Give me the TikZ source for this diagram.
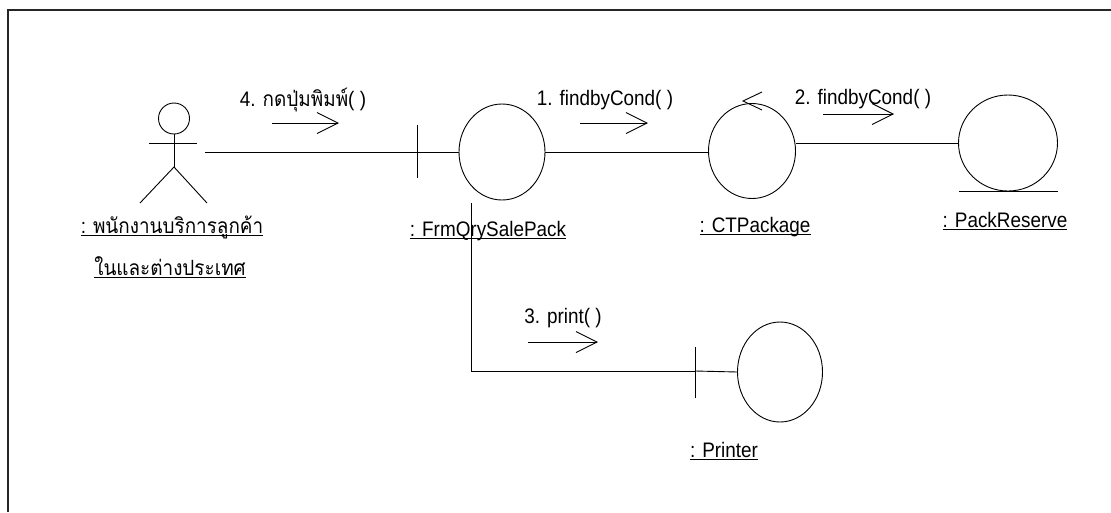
\documentclass[tikz,border=0pt]{standalone}
\usepackage{fontspec}
\setmainfont[FakeStretch=0.9]{Liberation Sans}
\newfontfamily\thai[Script=Thai,FakeStretch=0.9]{Loma}
\usetikzlibrary{shapes.geometric,arrows.meta}
\newcommand\ulbox[1]{\setbox0\hbox{#1}\rlap{\rule[-3pt]{\wd0}{0.9pt}}\box0}
\tikzset{
  obj/.style={ellipse, draw, inner sep=0pt, outer sep=0pt, minimum width=86pt, minimum height=96pt},
  txt/.style={anchor=base, inner sep=0pt},
  msg/.style={-{Straight Barb[length=21pt,width=21pt]}},
}
\begin{document}
\begin{tikzpicture}[x=1pt,y=-1pt,line width=0.9pt,font=\fontsize{21}{24}\selectfont]
\useasboundingbox (0,0) rectangle (1111,512);
\draw[line width=2pt,black!85] (8,512) -- (8,10) -- (1111,10);

% actor
\draw (174,118.5) circle (15.5pt);
\draw (149,143) -- (197,143);
\draw (174,134) -- (174,167);
\draw (140,203) -- (174,167) -- (207,203);
\coordinate (actorR) at (205,152);
\node[txt] (la1) at (172,233) {\ulbox{: \thai พนักงานบริการลูกค้า}};
\node[txt] (la2) at (170,275) {\ulbox{\thai ในและต่างประเทศ}};

% objects
\node[obj] (frm) at (502,152) {};
\node[obj, minimum width=87pt, minimum height=95pt] (ct) at (752,151) {};
\node[obj, minimum width=99pt, minimum height=96pt] (pr) at (1008,143) {};
\node[obj, minimum width=85pt, minimum height=100pt] (prn) at (780,372) {};

% boundary bars / control arrow / entity line
\draw (417,125) -- (417,178);
\draw (695,347) -- (695,398);
\coordinate (prnbar) at (695,371);
\draw (prnbar) -- (prn.west);
\draw (762,92) -- (743,101) -- (762,110);
\draw (pr.west |- pr.south) -- (pr.east |- pr.south);

\node[txt] (lfrm) at (488,236) {\ulbox{: FrmQrySalePack}};
\node[txt] (lct) at (755,232) {\ulbox{: CTPackage}};
\node[txt] (lpr) at (1005,227) {\ulbox{: PackReserve}};
\node[txt] (lprn) at (724,457) {\ulbox{: Printer}};

% links
\draw (actorR) -- (frm.west);
\draw (frm.east) -- (frm.east -| ct.west);
\draw (pr.west) -- (pr.west -| ct.east);
\coordinate (fdown) at (471,203);
\draw (fdown) |- (prnbar);

% messages
\node[txt] (m4) at (303,106) {4. {\thai กดปุ่มพิมพ์}( )};
\draw[msg] (272,123) -- (339,123);
\node[txt] (m1) at (605,105) {1. findbyCond( )};
\draw[msg] (580,123) -- (648,123);
\node[txt] (m2) at (863,104) {2. findbyCond( )};
\draw[msg] (823,114) -- (894,114);
\node[txt] (m3) at (563,323) {3. print( )};
\draw[msg] (528,342) -- (598,342);
\end{tikzpicture}
\end{document}
